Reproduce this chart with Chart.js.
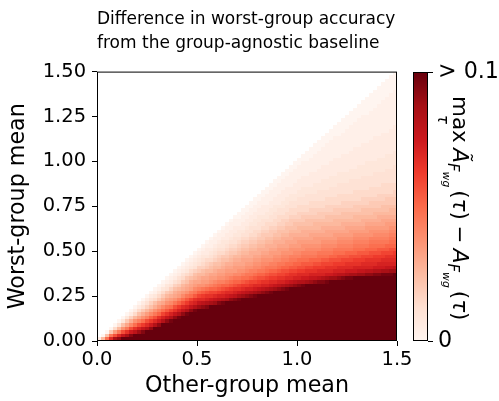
<!DOCTYPE html>
<html>
<head>
<meta charset="utf-8">
<script src="https://cdn.jsdelivr.net/npm/chart.js@4.4.1/dist/chart.umd.min.js"></script>
<style>
  html, body { margin: 0; padding: 0; background: #fff; }
  #lienzo { position: relative; width: 499px; height: 401px; }
  #mapa { position: absolute; left: 0; top: 0; }
  #barra { position: absolute; left: 399px; top: 0; }
</style>
</head>
<body>
<div id="lienzo">
  <canvas id="mapa" width="499" height="401"></canvas>
  <canvas id="barra" width="100" height="401"></canvas>
</div>
<script>
// Ticks de los ejes
const xTicks = [0, 0.5, 1.0, 1.5];
const yTicks = [0, 0.25, 0.5, 0.75, 1.0, 1.25, 1.5];
const cbTicks = [0, 0.1];
const cbTickLabels = ['0', '> 0.1'];

// Rejilla de la figura: celdas de 0.02 x 0.02, valores recortados en 0.1
const gridStep = 0.02;
const vmax = 0.1;

// Celdas saturadas (>= 0.1) al pie de cada columna, de x = 0 a x = 1.5
const darkCells = [
  0, 0, 0, 0, 0, 0, 1, 1, 1, 2, 2, 2, 3, 3, 4, 4, 5, 5, 5, 6,
  6, 7, 7, 8, 8, 9, 9, 9, 10, 10, 10, 10, 11, 11, 11, 11, 12, 12, 12, 12,
  13, 13, 13, 13, 14, 14, 14, 14, 15, 15, 15, 15, 16, 16, 16, 16, 16, 16, 17, 17,
  17, 17, 17, 17, 18, 18, 18, 18, 18, 18, 18, 18, 18, 18, 19
];

// Resto de cada columna hacia la diagonal, un caracter por celda:
const tailLevels = [
  '2', '90', 'h80', 'og70', 'ukc50', 'wog940', 'rkd830', 'ungb730', 'xqkea620', 'snhd9520',
  'vpkfb8520', 'xrmhda7420', 'tokfc96420', 'wqmieb86420', 'tokgda85310', 'wqnifca75310',
  'tplheb975310', 'wrnjgdb974310', 'ytplheca864210', 'wrnkgdba864210', 'ytpmifcb9754210',
  'wrokheca9754210', 'ytpmjgdba8753210', 'wrolhfcba8653210', 'ytpnjgecb98643210',
  'vrolifdba97643210', 'wsomjgdcb986543210', 'xtpnkhecba976532210', 'uqnlifdcb9875432110',
  'vroligecba9865432110', 'xspmjhfdcb98765432110', 'ytpnkifdcba98754332110',
  'uqoligedcba87654322110', 'wromjhfdcba987654322110', 'xspnkigeccba976544322110',
  'yuqnligedcba9876543321100', 'vromjhfdcbba9876543221100', 'wspmkhgedcba98765443221100',
  'xtpnligfdcbaa98765443221100', 'yuqoljhfedcba987655433221100', 'vromkigedcbaa987654433221100',
  'wspnkigfedcba9877654432221100', 'xtpnljhgedcbaa9876554332211100',
  'yuqomkigfdccba98776544332211100', 'vromkigfedcbaa98765544332211100',
  'wspnljhgedccba988765544322211100', 'xtpnlkigfedcbaa987665443322211100',
  'yuqomkihfedcbba9887655443322211100', 'vronljhgfddcbaa9877655443322111100',
  'wspnljigfedcbba98876554433222111100', 'xtpomkihfedccba998766554433222111100',
  'ytqomkjhgfddcbaa987765544333222111100', 'uqonljhgfedcbaa9887655444332221111000',
  'vrpnljigfedcbba98876655443322221111000', 'wrpnmkigfedccba998766554433322211111000',
  'xspomkihgedccba9987765544433222211111000', 'xtpomljhgfedcbaa9877655444333222211111000',
  'yuqonljhgfedcbba98876655443332222111111000', 'vqonlkigfedcbba988766554443332222111111000',
  'vrpnmkihgedccba9987765544433322222111111000', 'wspomkjhgfedcba99877655544433322221111110000',
  'xspomljhgfedcbaa98876655444333222221111110000', 'ytqonljigfedcbba988766554443332222211111110000',
  'yuqonlkigfedccba9887665544443332222211111110000', 'uqpnmkihgfedcba99877655544433322222211111110000',
  'vrpnmkjhgfedcba998776555444333322222111111110000', 'vrpomljhgfedcbaa988766554444333222222111111110000',
  'wsponljigfedccba9887665544443333222221111111100000', 'wsponlkihgfddcba98877655544433332222221111111100000',
  'xtqonmkihgfedcba998776555444433322222221111111100000', 'xtqpnmkjhgfedcbaa987766554444333322222211111111100000',
  'yuqpomljhgfedcbba9887665554443333222222211111111100000', 'yurponljigfedccba98877655544443333222222111111111100000',
  'yvrponlkihgfedcba998776555444433332222222111111111100000', 'vsponmkihgfedcba9987766554444433332222222111111111100000'
];

// Mapa de color "Reds"
const redsHex = ['#fff5f0', '#fee0d2', '#fcbba1', '#fc9272', '#fb6a4a', '#ef3b2c', '#cb181d', '#a50f15', '#67000d'];
const redsRgb = redsHex.map(h => [1, 3, 5].map(k => parseInt(h.slice(k, k + 2), 16)));

function reds(t) {
  t = Math.max(0, Math.min(1, t));
  const p = t * (redsRgb.length - 1);
  const k = Math.min(redsRgb.length - 2, Math.floor(p));
  const f = p - k;
  const a = redsRgb[k], b = redsRgb[k + 1];
  return 'rgb(' + a.map((c, n) => Math.round(c + (b[n] - c) * f)).join(',') + ')';
}

Chart.defaults.font.family = "'DejaVu Sans', sans-serif";
Chart.defaults.color = '#000';

// Construye los puntos de la rejilla a partir de las columnas
const puntos = [];
tailLevels.forEach(function (tail, i) {
  const x = (i + 0.5) * gridStep;
  for (let j = 0; j < darkCells[i]; j++) {
    puntos.push({ x: x, y: (j + 0.5) * gridStep, v: vmax });
  }
  for (let k = 0; k < tail.length; k++) {
    const j = darkCells[i] + k;
    puntos.push({ x: x, y: (j + 0.5) * gridStep, v: parseInt(tail[k], 36) / 35 * vmax });
  }
});

// Dibuja cada celda con las escalas del grafico
const mapaCalor = {
  id: 'mapaCalor',
  beforeDatasetsDraw(chart) {
    const { ctx, chartArea: a, scales: { x, y } } = chart;
    const half = gridStep / 2;
    ctx.save();
    ctx.beginPath();
    ctx.rect(a.left, a.top, a.right - a.left, a.bottom - a.top);
    ctx.clip();
    chart.data.datasets[0].data.forEach(function (p) {
      const x0 = Math.round(x.getPixelForValue(p.x - half));
      const x1 = Math.round(x.getPixelForValue(p.x + half));
      const y0 = Math.round(y.getPixelForValue(p.y + half));
      const y1 = Math.round(y.getPixelForValue(p.y - half));
      ctx.fillStyle = reds(p.v / vmax);
      ctx.fillRect(x0, y0, x1 - x0, y1 - y0);
    });
    ctx.restore();
  },
  afterDraw(chart) {
    const { ctx, chartArea: a } = chart;
    ctx.save();
    ctx.strokeStyle = '#000';
    ctx.lineWidth = 1;
    ctx.strokeRect(a.left + 0.5, a.top + 0.5, a.right - a.left - 1, a.bottom - a.top - 1);
    ctx.restore();
  }
};

const ejeComun = {
  type: 'linear',
  min: 0,
  max: 1.5,
  grid: { drawOnChartArea: false, tickLength: 5, tickColor: '#000', tickWidth: 1 },
  border: { display: false }
};

new Chart(document.getElementById('mapa'), {
  type: 'scatter',
  data: { datasets: [{ data: puntos, pointRadius: 0, pointHoverRadius: 0 }] },
  options: {
    responsive: false,
    animation: false,
    devicePixelRatio: 1,
    events: [],
    layout: { padding: { left: 0, right: 102, top: 0, bottom: 0 } },
    plugins: {
      legend: { display: false },
      tooltip: { enabled: false },
      title: {
        display: true,
        text: ['Difference in worst-group accuracy', 'from the group-agnostic baseline'],
        align: 'start',
        fullSize: false,
        color: '#000',
        font: { size: 17, weight: 'normal', lineHeight: 1.4 },
        padding: { top: 8, bottom: 16 }
      }
    },
    scales: {
      x: Object.assign({}, ejeComun, {
        position: 'bottom',
        afterBuildTicks: s => { s.ticks = xTicks.map(v => ({ value: v })); },
        afterFit: s => { s.height = 60; },
        ticks: { callback: v => v.toFixed(1), font: { size: 19.44 }, color: '#000', padding: 2, maxRotation: 0, autoSkip: false },
        title: { display: true, text: 'Other-group mean', color: '#000', font: { size: 22.2 }, padding: { top: 0, bottom: 1 } }
      }),
      y: Object.assign({}, ejeComun, {
        position: 'left',
        afterBuildTicks: s => { s.ticks = yTicks.map(v => ({ value: v })); },
        afterFit: s => { s.width = 97; },
        ticks: { callback: v => v.toFixed(2), font: { size: 19.44 }, color: '#000', padding: 6, autoSkip: false },
        title: { display: true, text: 'Worst-group mean', color: '#000', font: { size: 22.2 }, padding: { top: 5, bottom: 0 } }
      })
    }
  },
  plugins: [mapaCalor]
});

// Barra de color
function gradienteBarra(context) {
  const chart = context.chart;
  const a = chart.chartArea;
  if (!a) return redsHex[redsHex.length - 1];
  const g = chart.ctx.createLinearGradient(0, a.bottom, 0, a.top);
  redsHex.forEach((c, k) => g.addColorStop(k / (redsHex.length - 1), c));
  return g;
}

const marcoBarra = {
  id: 'marcoBarra',
  afterDraw(chart) {
    const { ctx, chartArea: a } = chart;
    ctx.save();
    ctx.strokeStyle = '#000';
    ctx.lineWidth = 1;
    ctx.strokeRect(a.left + 0.5, a.top + 0.5, a.right - a.left - 1, a.bottom - a.top - 1);

    // Etiqueta de la barra (texto matematico, girado 90 grados)
    const size = 21.5;
    const fRoman = size + "px 'DejaVu Sans'";
    const fItal = 'italic ' + size + "px 'DejaVu Sans'";
    const fSub = 'italic ' + (size * 0.7).toFixed(1) + "px 'DejaVu Sans'";
    const fSub2 = 'italic ' + (size * 0.5).toFixed(1) + "px 'DejaVu Sans'";
    ctx.translate(54, 96);
    ctx.rotate(Math.PI / 2);
    ctx.fillStyle = '#000';
    ctx.textBaseline = 'alphabetic';
    let x = 0;
    function put(txt, font, dy) {
      ctx.font = font;
      ctx.fillText(txt, x, dy);
      x += ctx.measureText(txt).width;
    }
    ctx.font = fRoman;
    const wMax = ctx.measureText('max').width;
    ctx.fillText('max', 0, 0);
    ctx.font = fSub;
    ctx.fillText('τ', (wMax - ctx.measureText('τ').width) / 2, 15);
    x = wMax + size * 0.25;
    put('Ã', fItal, 0);
    put('F', fSub, 5);
    put('wg', fSub2, 10);
    x += 3;
    put('(', fRoman, 0); put('τ', fItal, 0); put(')', fRoman, 0);
    x += size * 0.25;
    put('−', fRoman, 0);
    x += size * 0.25;
    put('A', fItal, 0);
    put('F', fSub, 5);
    put('wg', fSub2, 10);
    x += 3;
    put('(', fRoman, 0); put('τ', fItal, 0); put(')', fRoman, 0);
    ctx.restore();
  }
};

new Chart(document.getElementById('barra'), {
  type: 'bar',
  data: {
    labels: [''],
    datasets: [{ data: [[cbTicks[0], cbTicks[1]]], backgroundColor: gradienteBarra, borderWidth: 0, barPercentage: 1, categoryPercentage: 1 }]
  },
  options: {
    responsive: false,
    animation: false,
    devicePixelRatio: 1,
    events: [],
    layout: { padding: { left: 14, right: 0, top: 72, bottom: 60 } },
    plugins: { legend: { display: false }, tooltip: { enabled: false } },
    scales: {
      x: { display: false },
      y: {
        position: 'right',
        min: cbTicks[0],
        max: cbTicks[1],
        afterBuildTicks: s => { s.ticks = cbTicks.map(v => ({ value: v })); },
        afterFit: s => { s.width = 71; },
        ticks: { callback: v => cbTickLabels[cbTicks.indexOf(v)], font: { size: 22.2 }, color: '#000', padding: 5 },
        grid: { drawOnChartArea: false, tickLength: 5, tickColor: '#000', tickWidth: 1 },
        border: { display: false }
      }
    }
  },
  plugins: [marcoBarra]
});
</script>
</body>
</html>
